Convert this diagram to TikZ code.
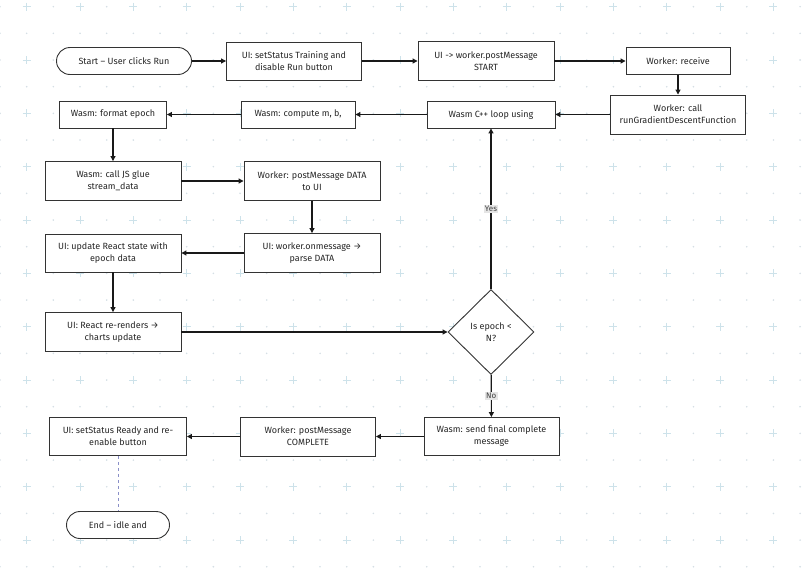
\documentclass[tikz,border=0pt]{standalone}
\usepackage{fontspec}
\setmainfont{Fira Sans}
\usetikzlibrary{arrows.meta,shapes.geometric}
\definecolor{gridgray}{HTML}{D5DFE5}
\definecolor{gridblue}{HTML}{CDE2EA}
\definecolor{edgegray}{HTML}{333333}
\definecolor{linkblue}{HTML}{8A8FC8}

\begin{document}
\begin{tikzpicture}[x=1pt,y=-1pt,
    box/.style={draw=edgegray, line width=0.9pt, fill=white, align=center, inner sep=2pt,
      minimum height=27pt, font=\fontsize{9}{12}\selectfont, text=black!85},
    wide/.style={box, minimum width=136pt, minimum height=39pt},
    term/.style={box, rounded corners=13.5pt},
    test/.style={box, diamond, minimum width=86pt, minimum height=85pt, inner sep=0pt},
    flow/.style={draw=black!90, line width=1.1pt, -{Triangle[length=5pt,width=5pt]}},
    tag/.style={fill=gray!20, inner sep=1.2pt, font=\fontsize{8}{9}\selectfont, text=black!75}]
          \useasboundingbox (0,0) rectangle (805,573);
          % background grid
          \foreach \m in {0,...,30}
            \foreach \n in {0,...,21} {
              \pgfmathtruncatemacro{\pl}{and(isodd(\m),iseven(\n))}
              \ifnum\pl=1
                \draw [gridblue, line width=0.9pt] (26.67*\m-4,6.67+26.67*\n) -- ++(8,0) (26.67*\m,6.67+26.67*\n-4) -- ++(0,8);
              \else
                \fill [gridgray] (26.67*\m,6.67+26.67*\n) circle (0.9pt);
              \fi
            }
          \node [term, minimum width=135pt] (start) at (124,61) {Start – User clicks Run};
          \node [wide, minimum width=135pt, minimum height=38pt] (setrun) at (294,61) {UI: setStatus Training and\\disable Run button};
          \node [wide] (post) at (486,61) {UI -> worker.postMessage\\START};
          \node [box, minimum width=104pt] (recv) at (678,61) {Worker: receive};
          \node [wide, minimum width=135pt] (call) at (678,114.5) {Worker: call\\runGradientDescentFunction};
          \node [box, minimum width=128pt] (loop) at (491,114.5) {Wasm C++ loop using};
          \node [box, minimum width=114pt] (comp) at (298,114.5) {Wasm: compute m, b,};
          \node [box, minimum width=107pt] (fmt) at (113,114.5) {Wasm: format epoch};
          \node [wide] (glue) at (113,181) {Wasm: call JS glue\\stream\_data};
          \node [wide] (data) at (312,181) {Worker: postMessage DATA\\to UI};
          \node [wide] (onmsg) at (312,253) {UI: worker.onmessage →\\parse DATA};
          \node [wide, minimum height=38pt] (state) at (113,253) {UI: update React state with\\epoch data};
          \node [wide] (render) at (113,332) {UI: React re-renders →\\charts update};
          \node [test] (check) at (491,332) {Is epoch <\\N?};
          \node [wide, minimum width=135pt, minimum height=38pt] (final) at (491.5,436.5) {Wasm: send final complete\\message};
          \node [wide, minimum width=135pt] (done) at (308,436.5) {Worker: postMessage\\COMPLETE};
          \node [wide, minimum width=137pt, minimum height=38pt] (ready) at (118,436.5) {UI: setStatus Ready and re-\\enable button};
          \node [term, minimum width=103pt] (end) at (118,525) {End – idle and};
          % connectors
          \draw [flow] (start) -- (setrun);
          \draw [flow] (setrun) -- (post);
          \draw [flow] (post) -- (recv);
          \draw [flow] (recv) -- (call);
          \draw [flow] (call) -- (loop);
          \draw [flow] (loop) -- (comp);
          \draw [flow] (comp) -- (fmt);
          \draw [flow] (fmt) -- (glue);
          \draw [flow] (glue) -- (data);
          \draw [flow] (data) -- (onmsg);
          \draw [flow] (onmsg) -- (state);
          \draw [flow] (state) -- (render);
          \draw [flow] (render) -- (check);
          \draw [flow] (check) -- (loop) node [midway, tag] {Yes};
          \draw [flow] (check) -- (final) node [midway, tag] {No};
          \draw [flow] (final) -- (done);
          \draw [flow] (done) -- (ready);
          \draw [linkblue, line width=0.8pt, dashed] (ready) -- (end);
        \end{tikzpicture}
\end{document}
